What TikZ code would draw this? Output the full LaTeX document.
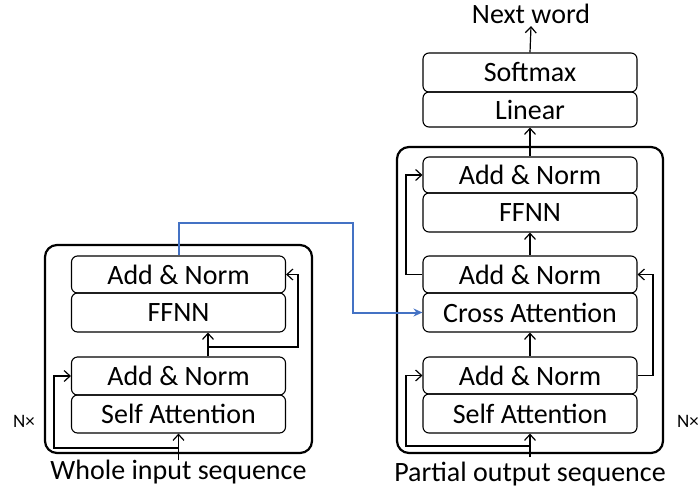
\documentclass[tikz,border=0pt]{standalone}
\usepackage{fontspec}
\setmainfont{Carlito}
\usetikzlibrary{arrows.meta}
\begin{document}
\begin{tikzpicture}[x=1pt,y=-1pt,
  block/.style={draw, line width=1.1pt, rounded corners=6pt, minimum width=214pt,
    inner sep=0pt, font=\fontsize{28}{30}\selectfont},
  stackbox/.style={draw, line width=2.2pt, rounded corners=12pt, inner sep=0pt},
  caption/.style={font=\fontsize{28}{30}\selectfont, inner sep=2pt},
  reps/.style={font=\fontsize{19}{21}\selectfont, inner sep=0pt},
  link/.style={line width=1.2pt, -{Straight Barb[length=6pt,width=11pt,line width=1.2pt]}},
  plain/.style={line width=1.2pt},
  cross/.style={line width=2pt, draw={rgb,255:red,68;green,114;blue,196},
    -{Stealth[length=9pt,width=8pt]}}]
\useasboundingbox (0,0) rectangle (700,490);

% encoder stack
\node[stackbox, minimum width=267pt, minimum height=208pt] (lstack) at (178.5,349) {};
\node[block, minimum height=37pt] (lan2) at (178.5,274.5) {Add \& Norm};
\node[block, minimum height=39pt] (lff)  at (178.5,312.5) {FFNN};
\node[block, minimum height=38pt] (lan1) at (178.5,376) {Add \& Norm};
\node[block, minimum height=38pt] (lsa)  at (178.5,414) {Self Attention};
\node[caption, anchor=base] (lin) at (178.5,479) {Whole input sequence};
\node[reps] (lrep) at (24,421) {N×};

% decoder stack
\node[stackbox, minimum width=266pt, minimum height=306pt] (rstack) at (530,300) {};
\node[block, minimum height=39pt] (soft) at (530,72.5) {Softmax};
\node[block, minimum height=35pt] (lin2) at (530,109.5) {Linear};
\node[block, minimum height=36pt] (ran3) at (530,175) {Add \& Norm};
\node[block, minimum height=39pt] (rff)  at (530,212.5) {FFNN};
\node[block, minimum height=37pt] (ran2) at (530,274.5) {Add \& Norm};
\node[block, minimum height=39pt] (rca)  at (530,312.5) {Cross Attention};
\node[block, minimum height=37pt] (ran1) at (530,375.5) {Add \& Norm};
\node[block, minimum height=39pt] (rsa)  at (530,413.5) {Self Attention};
\node[caption, anchor=base] (rin) at (530,481) {Partial output sequence};
\node[caption] (next) at (531,14) {Next word};
\node[reps, anchor=west] (rrep) at (677,421) {N×};

% encoder connectors
\draw[link] (lin.north |- 0,460) -- (lsa.south);
\coordinate (lsplit) at (178.5,448);
\coordinate (lleft) at (54,448);
\draw[link] (lsplit) -- (lleft) |- (lan1.west);
\draw[link] ([xshift=29.5pt]lan1.north) -- ([xshift=29.5pt]lff.south);
\coordinate (lfork) at (208,347);
\coordinate (lright) at (298,347);
\draw[link] (lfork) -- (lright) |- (lan2.east);

% decoder connectors
\draw[link] (rin.north |- 0,457) -- (rsa.south);
\coordinate (rsplit) at (530,446);
\coordinate (rleft) at (406,446);
\draw[link] (rsplit) -- (rleft) |- (ran1.west);
\draw[link] (ran1.north) -- (rca.south);
\coordinate (rright) at (653,375.5);
\draw[plain] (ran1.east) -- (rright);
\draw[link] (rright) |- (ran2.east);
\draw[link] (ran2.north) -- (rff.south);
\coordinate (rup) at (406,274.5);
\draw[plain] (ran2.west) -- (rup);
\draw[link] (rup) |- (ran3.west);
\draw[link] (ran3.north) -- (lin2.south);
\draw[link] (soft.north) -- (next.south);

% encoder output into cross attention
\coordinate (bend) at (353,223);
\draw[cross] (lan2.north) |- (bend) |- (rca.west);
\end{tikzpicture}
\end{document}
